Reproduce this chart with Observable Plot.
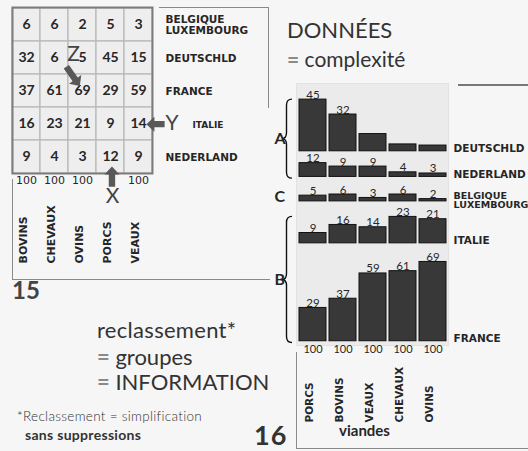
<!DOCTYPE html>
<html><head><meta charset="utf-8">
<script src="https://cdn.jsdelivr.net/npm/d3@7"></script>
<script src="https://cdn.jsdelivr.net/npm/@observablehq/plot@0.6"></script>
<style>
html,body{margin:0;padding:0;background:#f6f6f6}
#root{position:relative;width:528px;height:451px;overflow:hidden;background:#f6f6f6;font-family:Lato,"DejaVu Sans",sans-serif;color:#333}
.abs{position:absolute;white-space:nowrap;line-height:1}
.ln{position:absolute;border-color:#8a8a8a;border-style:solid;border-width:0;box-sizing:border-box}
.eq{color:#8a8a8a;font-weight:700}
</style></head><body>
<div id="root">
  <div class="ln" style="left:12px;top:179px;width:258px;height:101px;border-left-width:1.5px;border-bottom-width:1.5px"></div>
  <div class="ln" style="left:159px;top:7px;width:110px;height:101px;border-top-width:1.5px;border-right-width:1.5px"></div>
  <div class="ln" style="left:296px;top:352px;width:240px;height:97px;border-left-width:1.5px;border-bottom-width:1.5px"></div>
  <div class="ln" style="left:458px;top:84px;width:80px;height:2px;border-top-width:2px;border-color:#777"></div>
  <div id="fig15" class="abs" style="left:0;top:0"></div>
  <div id="fig16" class="abs" style="left:250px;top:0"></div>
  <div class="abs" style="left:287px;top:18.5px;font-size:22px">DONNÉES</div>
  <div class="abs" style="left:287px;top:48px;font-size:21px"><span class="eq">=</span> complexité</div>
  <div class="abs" style="left:12px;top:278px;font-size:24px;font-weight:700;color:#444">15</div>
  <div class="abs" style="left:97px;top:318.5px;font-size:22px;letter-spacing:0.3px">reclassement*</div>
  <div class="abs" style="left:97px;top:345.5px;font-size:22px"><span class="eq">=</span> groupes</div>
  <div class="abs" style="left:97px;top:370.5px;font-size:22px"><span class="eq">=</span> INFORMATION</div>
  <div class="abs" style="left:17px;top:410px;font-size:13.5px;font-weight:300;letter-spacing:0.3px">*Reclassement = simplification</div>
  <div class="abs" style="left:25px;top:427.5px;font-size:14px;font-weight:700;letter-spacing:0.3px">sans suppressions</div>
  <div class="abs" style="left:254px;top:421px;font-size:27px;font-weight:700;color:#333;letter-spacing:1px">16</div>
</div>
<script>
// ---- data (figure 15: table, alphabetical order) ----
const countries = ["BELGIQUE LUXEMBOURG", "DEUTSCHLD", "FRANCE", "ITALIE", "NEDERLAND"];
const rowLabels = ["BELGIQUE\nLUXEMBOURG", "DEUTSCHLD", "FRANCE", "ITALIE", "NEDERLAND"];
const meats = ["BOVINS", "CHEVAUX", "OVINS", "PORCS", "VEAUX"];
const belgiqueLuxembourg = [6, 6, 2, 5, 3];
const deutschland = [32, 6, 5, 45, 15];
const france = [37, 61, 69, 29, 59];
const italie = [16, 23, 21, 9, 14];
const nederland = [9, 4, 3, 12, 9];
const totals = [100, 100, 100, 100, 100];
const pointerLetters = ["X", "Y", "Z"];
// ---- figure 16: reordered ----
const meatOrder16 = ["PORCS", "BOVINS", "VEAUX", "CHEVAUX", "OVINS"];
const countryOrder16 = ["DEUTSCHLD", "NEDERLAND", "BELGIQUE LUXEMBOURG", "ITALIE", "FRANCE"];
const groupLetters = ["A", "C", "B"];
const groupMembers = [["DEUTSCHLD", "NEDERLAND"], ["BELGIQUE LUXEMBOURG"], ["ITALIE", "FRANCE"]];
const unlabeled16 = [["DEUTSCHLD", "VEAUX"], ["DEUTSCHLD", "CHEVAUX"], ["DEUTSCHLD", "OVINS"]];

// layout (spacing above each band of fig 16, in value units)
const bandGap16 = [14, 10.3, 15.3, 13.5, 16.2];
// layout of the pointer arrows of fig 15: anchor cell and tail/tip as fractions of that cell
const pointerLayout = [
  {cell: ["PORCS", "NEDERLAND"], tail: [0.57, 1.42], tip: [0.57, 0.8]},
  {cell: ["VEAUX", "ITALIE"], tail: [1.45, 0.52], tip: [0.8, 0.52]},
  {cell: ["OVINS", "DEUTSCHLD"], tail: [-0.06, 0.78], tip: [0.42, 1.36]}
];

const series = [belgiqueLuxembourg, deutschland, france, italie, nederland];
const table = countries.flatMap((c, i) => meats.map((m, j) => ({country: c, meat: m, value: series[i][j]})));
const val = (c, m) => series[countries.indexOf(c)][meats.indexOf(m)];
const labelOf = c => rowLabels[countries.indexOf(c)];
const totalOf = m => totals[meats.indexOf(m)];

const capsFont = "DejaVu Sans";
const ink = "#262626";

function bw(scale, fallback) {
  const b = scale && scale.bandwidth;
  return typeof b === "function" ? b() : (typeof b === "number" ? b : fallback);
}
function arrowPath(x0, y0, x1, y1, s, h, L) {
  const dx = x1 - x0, dy = y1 - y0, len = Math.hypot(dx, dy);
  const ux = dx / len, uy = dy / len, nx = -uy, ny = ux;
  const kx = x1 - ux * L, ky = y1 - uy * L;
  const p = [
    [x0 + nx * s, y0 + ny * s], [kx + nx * s, ky + ny * s], [kx + nx * h, ky + ny * h], [x1, y1],
    [kx - nx * h, ky - ny * h], [kx - nx * s, ky - ny * s], [x0 - nx * s, y0 - ny * s]
  ];
  return "M" + p.map(q => q.join(",")).join("L") + "Z";
}
function pointerMark(...args) {
  const scales = args.find(a => a && typeof a.x === "function" && typeof a.y === "function");
  const dims = args.find(a => a && a.marginLeft !== undefined);
  const w = bw(scales.x, (dims.width - dims.marginLeft - dims.marginRight) / meats.length);
  const hh = bw(scales.y, (dims.height - dims.marginTop - dims.marginBottom) / countries.length);
  const g = d3.create("svg:g").attr("fill", "#585858");
  for (const p of pointerLayout) {
    const cx = scales.x(p.cell[0]), cy = scales.y(p.cell[1]);
    g.append("path").attr("d", arrowPath(cx + p.tail[0] * w, cy + p.tail[1] * hh, cx + p.tip[0] * w, cy + p.tip[1] * hh, 3.2, 7.5, 8));
  }
  return g.node();
}

// ---------- Figure 15 ----------
const fig15 = Plot.plot({
  width: 280, height: 290,
  marginLeft: 12, marginRight: 128, marginTop: 7, marginBottom: 117,
  x: {type: "band", domain: meats, padding: 0, axis: null},
  y: {type: "band", domain: countries, padding: 0, axis: null},
  style: {background: "transparent", overflow: "visible", fontFamily: "Lato, sans-serif"},
  marks: [
    Plot.cell(table, {x: "meat", y: "country", fill: "#eeeeee", stroke: "#b8b8b8", strokeWidth: 1.2}),
    Plot.frame({stroke: "#7c7c7c", strokeWidth: 2}),
    Plot.text(table, {x: "meat", y: "country", text: d => String(d.value), fontSize: 14, fontWeight: 700, fill: ink}),
    Plot.text(countries.filter(c => c !== "ITALIE"), {y: d => d, frameAnchor: "right", dx: 13, textAnchor: "start",
      text: labelOf, lineHeight: 1.05, fontSize: 10.5, fontWeight: 700, fontFamily: capsFont, fill: ink}),
    Plot.text(["ITALIE"], {y: d => d, frameAnchor: "right", dx: 40, dy: 1, textAnchor: "start",
      text: labelOf, fontSize: 9, fontWeight: 700, fontFamily: capsFont, fill: ink}),
    Plot.text(meats.filter(m => m !== "PORCS"), {x: d => d, frameAnchor: "bottom", dy: 10,
      text: d => String(totalOf(d)), fontSize: 11, fontFamily: capsFont, fill: ink}),
    Plot.text(meats, {x: d => d, frameAnchor: "bottom", dy: 90, rotate: -90, textAnchor: "start",
      text: d => d, fontSize: 11, fontWeight: 700, fontFamily: capsFont, fill: ink}),
    pointerMark,
    Plot.text([{m: "PORCS", g: pointerLetters[0]}], {x: "m", frameAnchor: "bottom", dx: 2, dy: 29, text: "g", fontSize: 21, fill: "#444"}),
    Plot.text([{c: "ITALIE", g: pointerLetters[1]}], {y: "c", frameAnchor: "right", dx: 26, dy: -1, text: "g", fontSize: 21, fill: "#444"}),
    Plot.text([{m: "OVINS", c: "DEUTSCHLD", g: pointerLetters[2]}], {x: "m", y: "c", dx: -9, dy: -4, text: "g", fontSize: 21, fill: "#444"})
  ]
});
document.getElementById("fig15").appendChild(fig15);

// ---------- Figure 16 ----------
const base = {};
let acc = 0;
countryOrder16.forEach((c, i) => { acc += bandGap16[i] + d3.max(meats, m => val(c, m)); base[c] = acc; });
const yMax16 = acc + 3.7;
const maxOf = c => d3.max(meats, m => val(c, m));

const bars = countryOrder16.flatMap(c => meatOrder16.map(m => ({country: c, meat: m, value: val(c, m)})));
const isLabelled = d => !unlabeled16.some(([c, m]) => c === d.country && m === d.meat);

const groups = groupLetters.map((g, i) => {
  const rows = groupMembers[i];
  const first = rows[0], last = rows[rows.length - 1];
  const top = base[first] - maxOf(first) - (rows.length > 1 ? 0 : 2);
  const bottom = base[last] + (rows.length > 1 ? 1.5 : 0);
  return {name: g, top, bottom, mid: (top + bottom) / 2, brace: rows.length > 1};
});

function bracePath(x, y0, y1, w) {
  const ym = (y0 + y1) / 2, xb = x + w * 0.45, xe = x + w, q = 6;
  return `M${xe},${y0} Q${xb},${y0} ${xb},${y0 + q} L${xb},${ym - q} Q${xb},${ym} ${x},${ym} ` +
         `Q${xb},${ym} ${xb},${ym + q} L${xb},${y1 - q} Q${xb},${y1} ${xe},${y1}`;
}
function braceMark(...args) {
  const scales = args.find(a => a && typeof a.y === "function");
  const dims = args.find(a => a && a.marginLeft !== undefined);
  const g = d3.create("svg:g").attr("fill", "none").attr("stroke", "#111").attr("stroke-width", 1.4);
  for (const gr of groups.filter(d => d.brace)) {
    g.append("path").attr("d", bracePath(dims.marginLeft - 14, scales.y(gr.top), scales.y(gr.bottom), 10));
  }
  return g.node();
}

const fig16 = Plot.plot({
  width: 278, height: 451,
  marginLeft: 46, marginRight: 80, marginTop: 83, marginBottom: 106,
  x: {type: "band", domain: meatOrder16, paddingInner: 0.1, paddingOuter: 0.02, axis: null},
  y: {domain: [0, yMax16], reverse: true, axis: null},
  style: {background: "transparent", overflow: "visible", fontFamily: "Lato, sans-serif"},
  marks: [
    Plot.frame({fill: "#ebebeb", stroke: "#e2e2e2"}),
    Plot.barY(bars, {x: "meat", y1: d => base[d.country] - d.value, y2: d => base[d.country], fill: "#383838", stroke: "#111", strokeWidth: 1}),
    Plot.text(bars.filter(isLabelled), {x: "meat", y: d => base[d.country] - d.value, text: d => String(d.value),
      lineAnchor: "bottom", dy: -1, fontSize: 11.5, fill: ink}),
    Plot.text(countryOrder16.filter(c => c !== "BELGIQUE LUXEMBOURG"), {y: c => base[c], frameAnchor: "right", dx: 5, textAnchor: "start",
      lineAnchor: "bottom", dy: 1, text: labelOf, fontSize: 10.5, fontWeight: 700, fontFamily: capsFont, fill: ink}),
    Plot.text(["BELGIQUE LUXEMBOURG"], {y: c => base[c], frameAnchor: "right", dx: 5, textAnchor: "start",
      lineAnchor: "middle", dy: -1, lineHeight: 1, text: labelOf, fontSize: 9.5, fontWeight: 700, fontFamily: capsFont, fill: ink}),
    Plot.text(meatOrder16, {x: d => d, frameAnchor: "bottom", dy: 7, text: d => String(totalOf(d)), fontSize: 11, fill: ink}),
    Plot.text(meatOrder16, {x: d => d, frameAnchor: "bottom", dy: 77, rotate: -90, textAnchor: "start",
      text: d => d, fontSize: 10.5, fontWeight: 700, fontFamily: capsFont, fill: ink}),
    Plot.text(["viandes"], {frameAnchor: "bottom", dx: -8, dy: 90, text: d => d, fontSize: 15, fontWeight: 700, fill: ink}),
    braceMark,
    Plot.text(groups, {y: "mid", frameAnchor: "left", dx: -22, text: "name", fontSize: 16, fontWeight: 700, fill: ink})
  ]
});
document.getElementById("fig16").appendChild(fig16);
</script>
</body></html>
